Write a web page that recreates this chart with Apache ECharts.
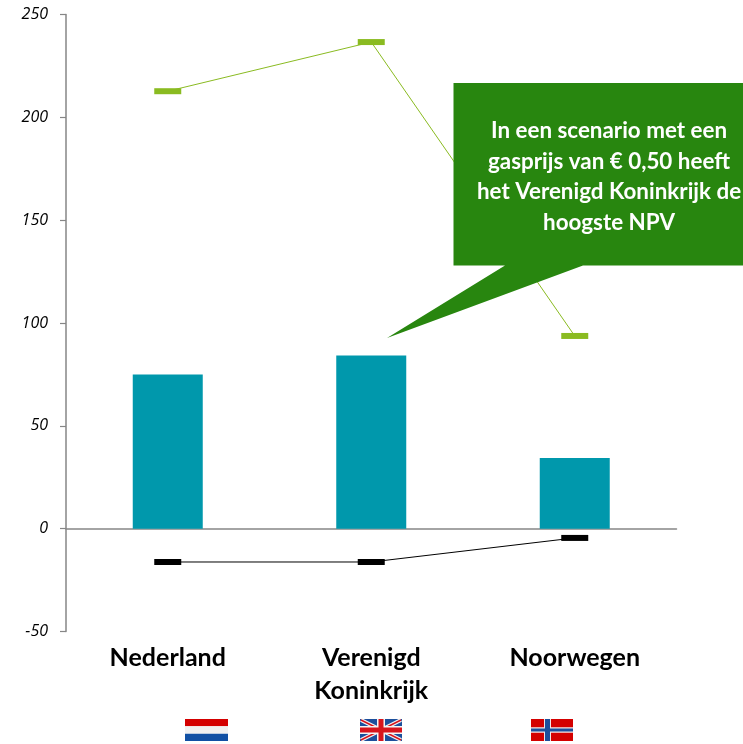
<!DOCTYPE html>
<html><head><meta charset="utf-8">
<style>html,body{margin:0;padding:0;background:#fff}#c{width:743px;height:744px}</style>
<script src="https://cdn.jsdelivr.net/npm/echarts@6/dist/echarts.min.js"></script>
</head><body><div id="c"></div>
<script>
const categories = ['Nederland', 'Verenigd\nKoninkrijk', 'Noorwegen'];
const npvValues = [75, 84.2, 34.4];
const highValues = [212.7, 236.6, 93.7];
const lowValues = [-16.2, -16.2, -4.5];
const calloutLines = ['In een scenario met een', 'gasprijs van € 0,50 heeft', 'het Verenigd Koninkrijk de', 'hoogste NPV'];
const FONT = 'Lato, "Open Sans", sans-serif';

function flagNL(x, y, w, h) {
  const s = h / 3;
  return [
    { type: 'rect', shape: { x, y, width: w, height: s }, style: { fill: '#d40000' } },
    { type: 'rect', shape: { x, y: y + s, width: w, height: s }, style: { fill: '#f0f0f0' } },
    { type: 'rect', shape: { x, y: y + 2 * s, width: w, height: s }, style: { fill: '#1150a4' } }
  ];
}
function flagUK(x, y, w, h) {
  const line = (x1, y1, x2, y2, c, t) => ({ type: 'line', shape: { x1, y1, x2, y2 }, style: { stroke: c, lineWidth: t } });
  const X = x + w, Y = y + h, cx = x + w / 2, cy = y + h / 2;
  return [
    { type: 'rect', shape: { x, y, width: w, height: h }, style: { fill: '#1c4f9c' } },
    line(x + 1, y + 1, X - 1, Y - 1, '#f4f4f4', 4), line(x + 1, Y - 1, X - 1, y + 1, '#f4f4f4', 4),
    line(x + 1, y + 1, X - 1, Y - 1, '#d8141c', 1.4), line(x + 1, Y - 1, X - 1, y + 1, '#d8141c', 1.4),
    line(cx, y, cx, Y, '#f4f4f4', 8), line(x, cy, X, cy, '#f4f4f4', 8),
    line(cx, y, cx, Y, '#d8141c', 5), line(x, cy, X, cy, '#d8141c', 5)
  ];
}
function flagNO(x, y, w, h) {
  const cx = x + 16.5, cy = y + h / 2;
  return [
    { type: 'rect', shape: { x, y, width: w, height: h }, style: { fill: '#d40000' } },
    { type: 'rect', shape: { x: cx - 3.5, y, width: 7, height: h }, style: { fill: '#f0e8e8' } },
    { type: 'rect', shape: { x, y: cy - 2.8, width: w, height: 5.6 }, style: { fill: '#f0e8e8' } },
    { type: 'rect', shape: { x: cx - 2.5, y, width: 5, height: h }, style: { fill: '#1c4f9c' } },
    { type: 'rect', shape: { x, y: cy - 1.6, width: w, height: 3.2 }, style: { fill: '#1c4f9c' } }
  ];
}

const chart = echarts.init(document.getElementById('c'), null, { renderer: 'canvas' });
const lineSeries = (data, color) => ({
  type: 'line', data, symbol: 'rect', symbolSize: [27, 6], showSymbol: true,
  itemStyle: { color }, lineStyle: { color, width: 1 }, animation: false, z: 3
});
chart.setOption({
  animation: false,
  backgroundColor: '#fff',
  grid: { left: 66, width: 610.5, top: 14.5, height: 617 },
  xAxis: [
    { type: 'category', data: categories, axisLine: { onZero: true, lineStyle: { color: '#868686', width: 1.5 } },
      axisTick: { show: false }, axisLabel: { show: false } },
    { type: 'category', data: categories, position: 'bottom', axisLine: { show: false, onZero: false }, axisTick: { show: false },
      axisLabel: { color: '#000', fontFamily: FONT, fontWeight: 'bold', fontSize: 25, lineHeight: 33, margin: 10 } }
  ],
  yAxis: { type: 'value', min: -50, max: 250, interval: 50, splitLine: { show: false },
    axisLine: { show: true, onZero: false, lineStyle: { color: '#868686', width: 1.5 } },
    axisTick: { show: true, length: 6, lineStyle: { color: '#868686', width: 1.2 } },
    axisLabel: { color: '#000', fontFamily: '"Open Sans", sans-serif', fontStyle: 'italic', fontSize: 16, margin: 18 } },
  series: [
    { type: 'bar', data: npvValues, barWidth: 70, itemStyle: { color: '#0098ac' }, z: 2 },
    lineSeries(highValues, '#8abb21'),
    lineSeries(lowValues, '#000')
  ],
  graphic: [
    { type: 'polygon', z: 100,
      shape: { points: [[453.5, 83], [743, 83], [743, 265.5], [583, 265.5], [387, 338], [505, 265.5], [453.5, 265.5]] },
      style: { fill: '#28860f', lineWidth: 0 } },
    ...calloutLines.map((t, i) => ({ type: 'text', z: 101, x: 609, y: 131 + i * 30.6,
      style: { text: t, fill: '#fff', font: 'bold 22.4px ' + FONT, textAlign: 'center', textVerticalAlign: 'middle' } })),
    ...[...flagNL(185, 719, 43, 22), ...flagUK(360, 719, 42, 22), ...flagNO(531, 719, 42, 22)].map(g => ({ ...g, z: 50 }))
  ]
});
</script></body></html>
